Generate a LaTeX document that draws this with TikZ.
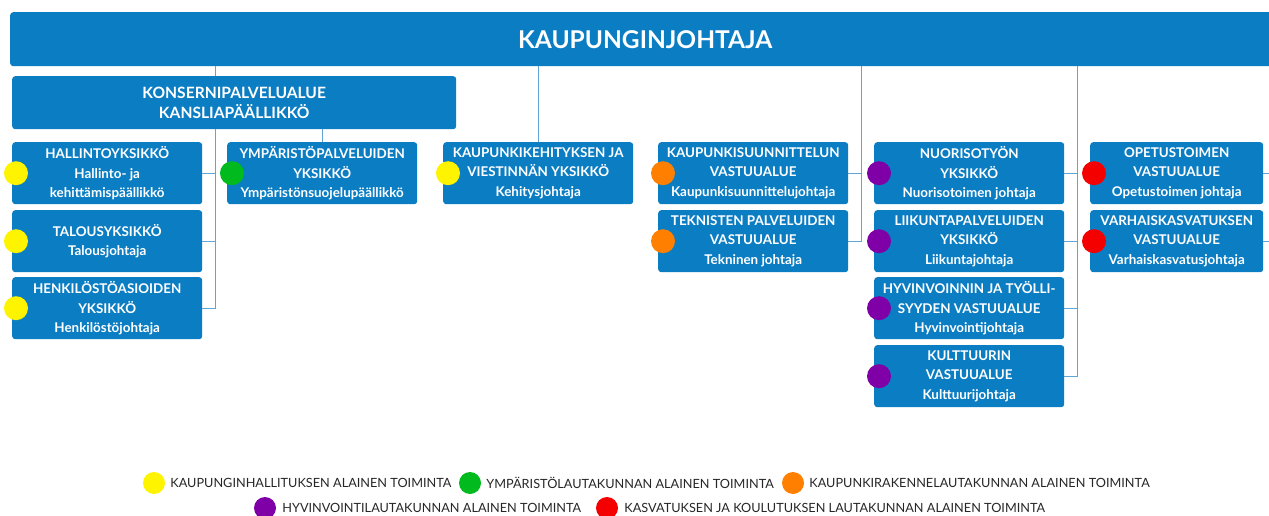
\documentclass[tikz,border=0pt]{standalone}
\usepackage{fontspec}
\setmainfont{Lato}
\newfontfamily\legendfont{Lato}
\usepackage{tikz}
\usetikzlibrary{positioning}
\usetikzlibrary{math}

\definecolor{unitblue}{RGB}{11,125,195}
\definecolor{linkblue}{RGB}{96,165,214}
\definecolor{dotyellow}{RGB}{255,244,0}
\definecolor{dotgreen}{RGB}{0,186,30}
\definecolor{dotorange}{RGB}{255,128,0}
\definecolor{dotpurple}{RGB}{128,0,168}
\definecolor{dotred}{RGB}{245,0,0}

\begin{document}
\begin{tikzpicture}[x=1pt,y=-1pt,
  unit/.style={rectangle, rounded corners=3pt, fill=unitblue, text=white,
    anchor=north west, inner sep=0pt, minimum width=190pt,
    minimum height=62pt, align=center,
    font=\fontsize{13.4}{19.5}\selectfont\bfseries},
  link/.style={draw=linkblue, line width=0.9pt},
  bullet/.style={circle, fill=#1, minimum size=24pt, inner sep=0pt},
  legend/.style={font=\legendfont\fontsize{12.7}{14}\selectfont,
    text=black!85, inner sep=0pt}]

  \tikzmath{
    \colA = 12;   % left edges of the unit columns
    \colB = 227;
    \colC = 443;
    \colD = 658;
    \colE = 874;
    \colF = 1090;
    \rowA = 142;  % top edges of the unit rows
    \rowB = 210;
    \rowC = 277;
    \rowD = 345;
  }

  \useasboundingbox (0,0) rectangle (1269,516);
  \clip (0,0) rectangle (1269,516);

  % Kaupunginjohtaja and konsernipalvelualue
  \node[unit, minimum width=1270pt, minimum height=54pt,
    font=\fontsize{24.5}{28}\selectfont\bfseries] (johtaja) at (10,12)
    {KAUPUNGINJOHTAJA};
  \node[unit, minimum width=444pt, minimum height=53pt,
    font=\fontsize{15.6}{19.5}\selectfont\bfseries] (konserni) at (12,76)
    {KONSERNIPALVELUALUE\\KANSLIAPÄÄLLIKKÖ};

  % units
  \node[unit] (hallinto) at (\colA,\rowA)
    {HALLINTOYKSIKKÖ\\Hallinto- ja\\kehittämispäällikkö};
  \node[unit] (talous) at (\colA,\rowB)
    {TALOUSYKSIKKÖ\\Talousjohtaja};
  \node[unit] (henkilosto) at (\colA,\rowC)
    {HENKILÖSTÖASIOIDEN\\YKSIKKÖ\\Henkilöstöjohtaja};
  \node[unit] (ymparisto) at (\colB,\rowA)
    {YMPÄRISTÖPALVELUIDEN\\YKSIKKÖ\\Ympäristönsuojelupäällikkö};
  \node[unit] (kehitys) at (\colC,\rowA)
    {KAUPUNKIKEHITYKSEN JA\\VIESTINNÄN YKSIKKÖ\\Kehitysjohtaja};
  \node[unit] (suunnittelu) at (\colD,\rowA)
    {KAUPUNKISUUNNITTELUN\\VASTUUALUE\\Kaupunkisuunnittelujohtaja};
  \node[unit] (tekninen) at (\colD,\rowB)
    {TEKNISTEN PALVELUIDEN\\VASTUUALUE\\Tekninen johtaja};
  \node[unit] (nuoriso) at (\colE,\rowA)
    {NUORISOTYÖN\\YKSIKKÖ\\Nuorisotoimen johtaja};
  \node[unit] (liikunta) at (\colE,\rowB)
    {LIIKUNTAPALVELUIDEN\\YKSIKKÖ\\Liikuntajohtaja};
  \node[unit] (hyvinvointi) at (\colE,\rowC)
    {HYVINVOINNIN JA TYÖLLI-\\SYYDEN VASTUUALUE\\Hyvinvointijohtaja};
  \node[unit] (kulttuuri) at (\colE,\rowD)
    {KULTTUURIN\\VASTUUALUE\\Kulttuurijohtaja};
  \node[unit, minimum width=173pt] (opetus) at (\colF,\rowA)
    {OPETUSTOIMEN\\VASTUUALUE\\Opetustoimen johtaja};
  \node[unit, minimum width=173pt] (varhais) at (\colF,\rowB)
    {VARHAISKASVATUKSEN\\VASTUUALUE\\Varhaiskasvatusjohtaja};

  % spines of the branches
  \coordinate (konsernispine) at (215,0);
  \coordinate (ksspine) at (861,0);
  \coordinate (hyvspine) at (1077,0);
  \coordinate (kasvspine) at (1280,0);

  \draw[link] (konsernispine |- johtaja.south) -- (konsernispine |- konserni.north);
  \draw[link] (konsernispine |- konserni.south) -- (konsernispine |- henkilosto.east)
    -- (henkilosto.east);
  \draw[link] (hallinto.east) -- (konsernispine |- hallinto.east);
  \draw[link] (talous.east) -- (konsernispine |- talous.east);
  \draw[link] (ymparisto.north) -- (ymparisto.north |- konserni.south);
  \draw[link] (kehitys.north) -- (kehitys.north |- johtaja.south);

  \draw[link] (ksspine |- johtaja.south) -- (ksspine |- tekninen.east) -- (tekninen.east);
  \draw[link] (suunnittelu.east) -- (ksspine |- suunnittelu.east);

  \draw[link] (hyvspine |- johtaja.south) -- (hyvspine |- kulttuuri.east) -- (kulttuuri.east);
  \draw[link] (nuoriso.east) -- (hyvspine |- nuoriso.east);
  \draw[link] (liikunta.east) -- (hyvspine |- liikunta.east);
  \draw[link] (hyvinvointi.east) -- (hyvspine |- hyvinvointi.east);

  \draw[link] (opetus.east) -- (kasvspine |- opetus.east);
  \draw[link] (varhais.east) -- (kasvspine |- varhais.east);

  % dots of the boards
  \node[bullet=dotyellow] (hallintodot) at ([xshift=4pt]hallinto.west) {};
  \node[bullet=dotyellow] (taloudot) at ([xshift=4pt]talous.west) {};
  \node[bullet=dotyellow] (henkilostodot) at ([xshift=4pt]henkilosto.west) {};
  \node[bullet=dotgreen] (ymparistodot) at ([xshift=5pt]ymparisto.west) {};
  \node[bullet=dotyellow] (kehitysdot) at ([xshift=5pt]kehitys.west) {};
  \node[bullet=dotorange] (suunnitteludot) at ([xshift=5pt]suunnittelu.west) {};
  \node[bullet=dotorange] (tekninendot) at ([xshift=5pt]tekninen.west) {};
  \node[bullet=dotpurple] (nuorisodot) at ([xshift=5pt]nuoriso.west) {};
  \node[bullet=dotpurple] (liikuntadot) at ([xshift=5pt]liikunta.west) {};
  \node[bullet=dotpurple] (hyvinvointidot) at ([xshift=5pt]hyvinvointi.west) {};
  \node[bullet=dotpurple] (kulttuuridot) at ([xshift=5pt]kulttuuri.west) {};
  \node[bullet=dotred] (opetusdot) at ([xshift=4pt]opetus.west) {};
  \node[bullet=dotred] (varhaisdot) at ([xshift=4pt]varhais.west) {};

  % legend
  \node[bullet=dotyellow, minimum size=22pt] (lgkh) at (154,483) {};
  \node[legend, right=5pt of lgkh] (lgkhtext) {KAUPUNGINHALLITUKSEN ALAINEN TOIMINTA};
  \node[bullet=dotgreen, minimum size=22pt] (lgym) at (470,483) {};
  \node[legend, right=5pt of lgym] (lgymtext) {YMPÄRISTÖLAUTAKUNNAN ALAINEN TOIMINTA};
  \node[bullet=dotorange, minimum size=22pt] (lgkr) at (793,483) {};
  \node[legend, right=5pt of lgkr] (lgkrtext) {KAUPUNKIRAKENNELAUTAKUNNAN ALAINEN TOIMINTA};
  \node[bullet=dotpurple, minimum size=22pt] (lghv) at (265,508) {};
  \node[legend, right=6pt of lghv] (lghvtext) {HYVINVOINTILAUTAKUNNAN ALAINEN TOIMINTA};
  \node[bullet=dotred, minimum size=22pt] (lgkk) at (607,508) {};
  \node[legend, right=6pt of lgkk] (lgkktext) {KASVATUKSEN JA KOULUTUKSEN LAUTAKUNNAN ALAINEN TOIMINTA};

\end{tikzpicture}
\end{document}
